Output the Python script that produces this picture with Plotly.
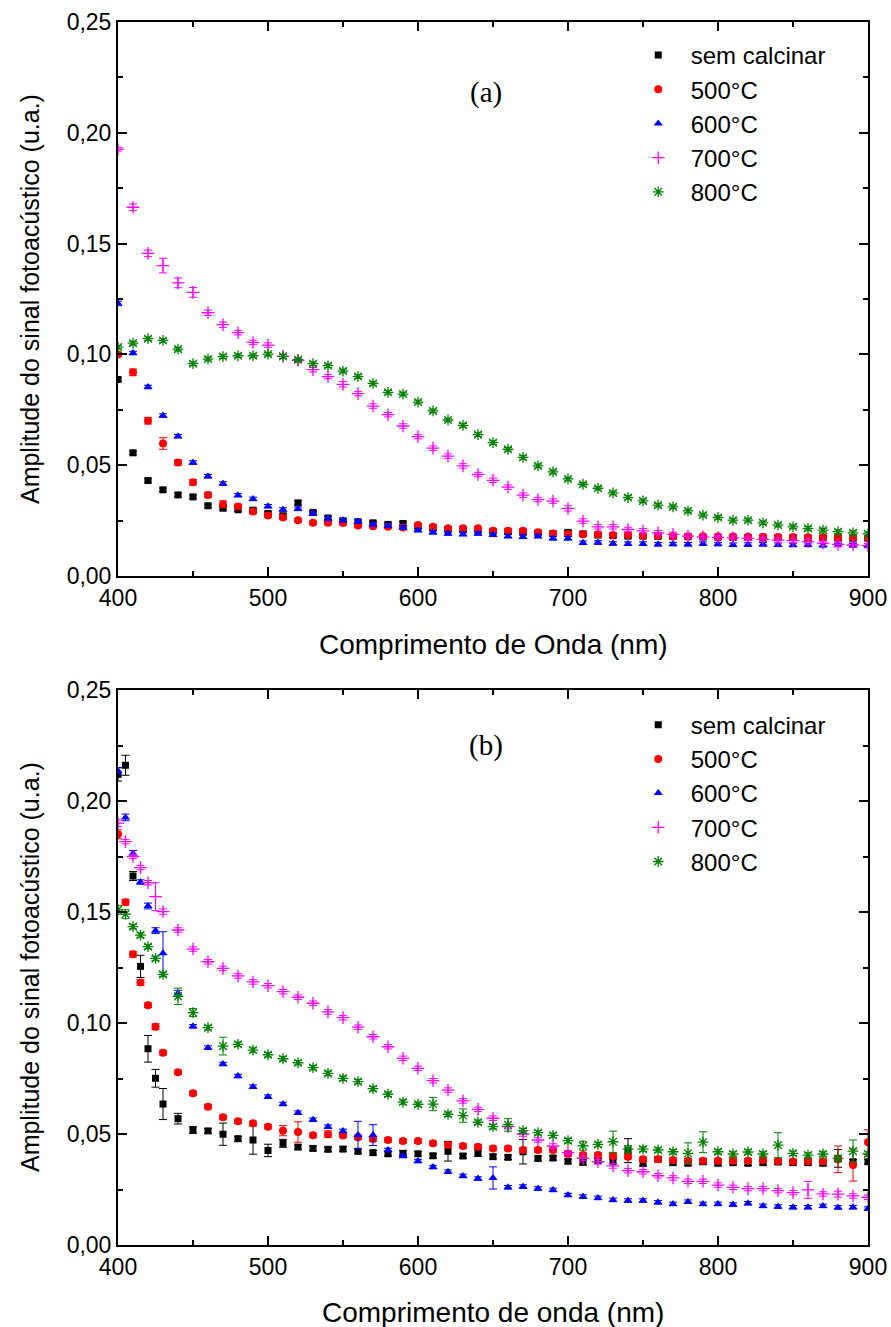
import plotly.graph_objects as go

# Wavelength grids (nm)
x_a = list(range(400, 901, 10))
x_b = [400, 405, 410, 415, 420, 425, 430] + list(range(440, 901, 10))

series_names = ["sem calcinar", "500°C", "600°C", "700°C", "800°C"]

# ---- Panel (a) ----
a_sem = [0.0887, 0.0556, 0.0431, 0.0389, 0.0366, 0.0357, 0.0317, 0.0306, 0.0299, 0.0297,
         0.0282, 0.0272, 0.0330, 0.0287, 0.0262, 0.0249, 0.0245, 0.0240, 0.0233, 0.0237,
         0.0222, 0.0215, 0.0210, 0.0208, 0.0207, 0.0202, 0.0200, 0.0198, 0.0195, 0.0192,
         0.0197, 0.0190, 0.0185, 0.0182, 0.0180, 0.0180, 0.0179, 0.0178, 0.0177, 0.0176,
         0.0175, 0.0175, 0.0174, 0.0174, 0.0173, 0.0173, 0.0172, 0.0172, 0.0171, 0.0170,
         0.0170]
a_500 = [0.1000, 0.0919, 0.0701, 0.0598, 0.0512, 0.0423, 0.0366, 0.0324, 0.0314, 0.0291,
         0.0273, 0.0264, 0.0252, 0.0240, 0.0240, 0.0239, 0.0228, 0.0225, 0.0222, 0.0219,
         0.0230, 0.0222, 0.0215, 0.0216, 0.0215, 0.0204, 0.0204, 0.0204, 0.0197, 0.0192,
         0.0190, 0.0189, 0.0189, 0.0185, 0.0185, 0.0182, 0.0181, 0.0180, 0.0180, 0.0179,
         0.0178, 0.0178, 0.0177, 0.0177, 0.0176, 0.0176, 0.0175, 0.0175, 0.0174, 0.0174,
         0.0173]
a_600 = [0.1230, 0.1006, 0.0853, 0.0724, 0.0631, 0.0512, 0.0450, 0.0417, 0.0365, 0.0348,
         0.0315, 0.0300, 0.0303, 0.0282, 0.0260, 0.0252, 0.0246, 0.0233, 0.0227, 0.0219,
         0.0207, 0.0197, 0.0192, 0.0189, 0.0192, 0.0186, 0.0180, 0.0177, 0.0180, 0.0170,
         0.0170, 0.0150, 0.0151, 0.0147, 0.0146, 0.0146, 0.0143, 0.0144, 0.0143, 0.0146,
         0.0144, 0.0141, 0.0142, 0.0143, 0.0141, 0.0140, 0.0141, 0.0139, 0.0140, 0.0139,
         0.0138]
a_700 = [0.1926, 0.1664, 0.1456, 0.1401, 0.1323, 0.1280, 0.1188, 0.1134, 0.1098, 0.1054,
         0.1042, 0.0991, 0.0973, 0.0931, 0.0900, 0.0865, 0.0823, 0.0767, 0.0728, 0.0677,
         0.0629, 0.0577, 0.0541, 0.0497, 0.0458, 0.0432, 0.0401, 0.0365, 0.0345, 0.0338,
         0.0305, 0.0248, 0.0222, 0.0222, 0.0210, 0.0204, 0.0195, 0.0188, 0.0180, 0.0177,
         0.0174, 0.0172, 0.0170, 0.0165, 0.0162, 0.0160, 0.0155, 0.0148, 0.0143, 0.0140,
         0.0137]
a_800 = [0.1033, 0.1051, 0.1071, 0.1063, 0.1024, 0.0958, 0.0979, 0.0990, 0.0994, 0.0994,
         0.1001, 0.0991, 0.0976, 0.0958, 0.0949, 0.0925, 0.0900, 0.0869, 0.0829, 0.0821,
         0.0785, 0.0745, 0.0704, 0.0680, 0.0638, 0.0602, 0.0572, 0.0535, 0.0497, 0.0470,
         0.0438, 0.0414, 0.0396, 0.0375, 0.0354, 0.0339, 0.0320, 0.0312, 0.0294, 0.0275,
         0.0264, 0.0252, 0.0252, 0.0240, 0.0230, 0.0222, 0.0215, 0.0207, 0.0200, 0.0195,
         0.0190]

a_sem_err = [0.0008, 0.0008, 0.0008, 0.0008, 0.0008, 0.0008, 0.0008, 0.0008, 0.0008, 0.0008,
             0.0008, 0.0008, 0.0010, 0.0008, 0.0008, 0.0008, 0.0008, 0.0008, 0.0008, 0.0008,
             0.0008, 0.0008, 0.0008, 0.0008, 0.0008, 0.0008, 0.0008, 0.0008, 0.0008, 0.0008,
             0.0008, 0.0008, 0.0008, 0.0008, 0.0008, 0.0008, 0.0008, 0.0008, 0.0008, 0.0008,
             0.0008, 0.0008, 0.0008, 0.0008, 0.0008, 0.0008, 0.0008, 0.0008, 0.0008, 0.0008,
             0.0008]
a_500_err = [0.0008, 0.0015, 0.0015, 0.0026, 0.0012, 0.0012, 0.0012, 0.0015, 0.0010, 0.0010,
             0.0008, 0.0008, 0.0008, 0.0008, 0.0008, 0.0008, 0.0008, 0.0008, 0.0008, 0.0008,
             0.0008, 0.0008, 0.0008, 0.0008, 0.0008, 0.0008, 0.0008, 0.0008, 0.0008, 0.0008,
             0.0008, 0.0008, 0.0008, 0.0008, 0.0008, 0.0008, 0.0008, 0.0008, 0.0008, 0.0008,
             0.0008, 0.0008, 0.0008, 0.0008, 0.0008, 0.0008, 0.0008, 0.0008, 0.0008, 0.0008,
             0.0008]
a_600_err = [0.0010, 0.0008, 0.0008, 0.0008, 0.0008, 0.0008, 0.0008, 0.0008, 0.0008, 0.0008,
             0.0008, 0.0008, 0.0008, 0.0008, 0.0008, 0.0008, 0.0008, 0.0008, 0.0008, 0.0008,
             0.0008, 0.0008, 0.0008, 0.0008, 0.0008, 0.0008, 0.0008, 0.0008, 0.0008, 0.0008,
             0.0008, 0.0008, 0.0008, 0.0008, 0.0008, 0.0008, 0.0008, 0.0008, 0.0008, 0.0008,
             0.0008, 0.0008, 0.0008, 0.0008, 0.0008, 0.0008, 0.0008, 0.0008, 0.0008, 0.0008,
             0.0008]
a_700_err = [0.0008, 0.0015, 0.0015, 0.0033, 0.0022, 0.0022, 0.0012, 0.0012, 0.0010, 0.0010,
             0.0010, 0.0010, 0.0010, 0.0010, 0.0010, 0.0012, 0.0010, 0.0010, 0.0010, 0.0010,
             0.0010, 0.0010, 0.0010, 0.0010, 0.0010, 0.0010, 0.0010, 0.0010, 0.0010, 0.0010,
             0.0012, 0.0010, 0.0010, 0.0010, 0.0010, 0.0010, 0.0010, 0.0010, 0.0010, 0.0010,
             0.0010, 0.0010, 0.0010, 0.0010, 0.0010, 0.0010, 0.0010, 0.0010, 0.0010, 0.0010,
             0.0010]
a_800_err = [0.0008, 0.0008, 0.0008, 0.0008, 0.0008, 0.0008, 0.0008, 0.0008, 0.0008, 0.0008,
             0.0008, 0.0008, 0.0008, 0.0008, 0.0008, 0.0008, 0.0008, 0.0008, 0.0008, 0.0008,
             0.0008, 0.0008, 0.0008, 0.0008, 0.0008, 0.0008, 0.0008, 0.0008, 0.0008, 0.0008,
             0.0008, 0.0008, 0.0008, 0.0008, 0.0008, 0.0008, 0.0008, 0.0008, 0.0008, 0.0008,
             0.0008, 0.0008, 0.0008, 0.0008, 0.0008, 0.0008, 0.0008, 0.0008, 0.0008, 0.0008,
             0.0008]

# ---- Panel (b) ----
b_sem = [0.2120, 0.2161, 0.1662, 0.1255, 0.0884, 0.0751, 0.0635,
         0.0569, 0.0518, 0.0514, 0.0499, 0.0479, 0.0473, 0.0426, 0.0458, 0.0441, 0.0435,
         0.0431, 0.0432, 0.0422, 0.0416, 0.0411, 0.0413, 0.0411, 0.0402, 0.0422, 0.0401,
         0.0414, 0.0398, 0.0395, 0.0420, 0.0390, 0.0392, 0.0377, 0.0372, 0.0380, 0.0377,
         0.0425, 0.0368, 0.0386, 0.0371, 0.0368, 0.0375, 0.0368, 0.0371, 0.0368, 0.0371,
         0.0374, 0.0371, 0.0371, 0.0368, 0.0390, 0.0375, 0.0375]
b_500 = [0.1850, 0.1544, 0.1310, 0.1182, 0.1080, 0.0983, 0.0866,
         0.0778, 0.0683, 0.0623, 0.0575, 0.0557, 0.0548, 0.0533, 0.0515, 0.0509, 0.0494,
         0.0499, 0.0493, 0.0485, 0.0477, 0.0473, 0.0468, 0.0468, 0.0458, 0.0452, 0.0446,
         0.0443, 0.0435, 0.0435, 0.0428, 0.0428, 0.0428, 0.0410, 0.0405, 0.0405, 0.0401,
         0.0398, 0.0386, 0.0386, 0.0383, 0.0380, 0.0380, 0.0380, 0.0380, 0.0380, 0.0383,
         0.0377, 0.0376, 0.0377, 0.0377, 0.0386, 0.0360, 0.0463]
b_600 = [0.2135, 0.1926, 0.1764, 0.1635, 0.1527, 0.1416, 0.1314,
         0.1134, 0.0985, 0.0889, 0.0815, 0.0761, 0.0713, 0.0668, 0.0635, 0.0596, 0.0564,
         0.0533, 0.0514, 0.0495, 0.0495, 0.0428, 0.0401, 0.0378, 0.0351, 0.0330, 0.0311,
         0.0299, 0.0302, 0.0260, 0.0263, 0.0254, 0.0248, 0.0225, 0.0218, 0.0212, 0.0203,
         0.0200, 0.0200, 0.0192, 0.0185, 0.0195, 0.0185, 0.0185, 0.0182, 0.0188, 0.0176,
         0.0173, 0.0170, 0.0170, 0.0176, 0.0169, 0.0170, 0.0164]
b_700 = [0.1900, 0.1817, 0.1750, 0.1700, 0.1632, 0.1569, 0.1502,
         0.1419, 0.1333, 0.1276, 0.1246, 0.1212, 0.1185, 0.1168, 0.1141, 0.1116, 0.1089,
         0.1050, 0.1024, 0.0981, 0.0938, 0.0893, 0.0841, 0.0796, 0.0740, 0.0698, 0.0649,
         0.0611, 0.0571, 0.0533, 0.0500, 0.0473, 0.0446, 0.0416, 0.0390, 0.0375, 0.0356,
         0.0335, 0.0330, 0.0312, 0.0302, 0.0287, 0.0287, 0.0270, 0.0260, 0.0254, 0.0254,
         0.0245, 0.0236, 0.0248, 0.0230, 0.0229, 0.0221, 0.0215]
b_800 = [0.1510, 0.1490, 0.1434, 0.1396, 0.1344, 0.1291, 0.1219,
         0.1120, 0.1047, 0.0979, 0.0896, 0.0904, 0.0878, 0.0857, 0.0839, 0.0821, 0.0799,
         0.0773, 0.0751, 0.0736, 0.0704, 0.0679, 0.0644, 0.0634, 0.0635, 0.0589, 0.0583,
         0.0553, 0.0533, 0.0541, 0.0515, 0.0506, 0.0494, 0.0470, 0.0447, 0.0453, 0.0465,
         0.0432, 0.0432, 0.0428, 0.0420, 0.0413, 0.0463, 0.0420, 0.0410, 0.0419, 0.0410,
         0.0450, 0.0413, 0.0405, 0.0410, 0.0390, 0.0423, 0.0410]

b_sem_err = [0.0030, 0.0045, 0.0020, 0.0050, 0.0060, 0.0040, 0.0070,
             0.0024, 0.0015, 0.0010, 0.0050, 0.0010, 0.0064, 0.0028, 0.0018, 0.0010, 0.0010,
             0.0010, 0.0010, 0.0010, 0.0010, 0.0010, 0.0012, 0.0010, 0.0010, 0.0044, 0.0010,
             0.0015, 0.0010, 0.0010, 0.0055, 0.0010, 0.0010, 0.0010, 0.0010, 0.0010, 0.0010,
             0.0054, 0.0012, 0.0010, 0.0010, 0.0010, 0.0010, 0.0010, 0.0010, 0.0010, 0.0010,
             0.0010, 0.0010, 0.0010, 0.0010, 0.0040, 0.0010, 0.0010]
b_500_err = [0.0020, 0.0013, 0.0013, 0.0013, 0.0010, 0.0013, 0.0010,
             0.0010, 0.0010, 0.0010, 0.0010, 0.0010, 0.0010, 0.0010, 0.0023, 0.0046, 0.0010,
             0.0015, 0.0010, 0.0010, 0.0010, 0.0010, 0.0010, 0.0010, 0.0010, 0.0010, 0.0010,
             0.0010, 0.0010, 0.0010, 0.0010, 0.0010, 0.0010, 0.0010, 0.0010, 0.0010, 0.0010,
             0.0010, 0.0010, 0.0010, 0.0010, 0.0010, 0.0010, 0.0010, 0.0010, 0.0010, 0.0010,
             0.0010, 0.0010, 0.0010, 0.0010, 0.0060, 0.0072, 0.0056]
b_600_err = [0.0015, 0.0015, 0.0013, 0.0010, 0.0013, 0.0013, 0.0097,
             0.0013, 0.0008, 0.0008, 0.0008, 0.0008, 0.0008, 0.0008, 0.0008, 0.0008, 0.0008,
             0.0008, 0.0008, 0.0062, 0.0047, 0.0008, 0.0008, 0.0008, 0.0008, 0.0008, 0.0008,
             0.0008, 0.0050, 0.0008, 0.0008, 0.0008, 0.0008, 0.0008, 0.0008, 0.0008, 0.0008,
             0.0008, 0.0008, 0.0008, 0.0008, 0.0008, 0.0008, 0.0008, 0.0008, 0.0008, 0.0008,
             0.0008, 0.0008, 0.0008, 0.0008, 0.0008, 0.0008, 0.0008]
b_700_err = [0.0015, 0.0010, 0.0010, 0.0010, 0.0010, 0.0063, 0.0012,
             0.0010, 0.0010, 0.0010, 0.0010, 0.0010, 0.0010, 0.0010, 0.0010, 0.0010, 0.0010,
             0.0010, 0.0010, 0.0010, 0.0010, 0.0010, 0.0010, 0.0010, 0.0010, 0.0010, 0.0010,
             0.0010, 0.0010, 0.0010, 0.0010, 0.0010, 0.0010, 0.0010, 0.0010, 0.0010, 0.0010,
             0.0010, 0.0010, 0.0010, 0.0010, 0.0010, 0.0010, 0.0010, 0.0010, 0.0010, 0.0010,
             0.0010, 0.0010, 0.0038, 0.0010, 0.0013, 0.0010, 0.0010]
b_800_err = [0.0020, 0.0020, 0.0010, 0.0010, 0.0010, 0.0010, 0.0010,
             0.0037, 0.0018, 0.0010, 0.0040, 0.0010, 0.0010, 0.0010, 0.0010, 0.0010, 0.0010,
             0.0010, 0.0010, 0.0010, 0.0010, 0.0010, 0.0010, 0.0010, 0.0030, 0.0010, 0.0030,
             0.0010, 0.0010, 0.0028, 0.0010, 0.0010, 0.0010, 0.0010, 0.0020, 0.0010, 0.0048,
             0.0015, 0.0010, 0.0010, 0.0010, 0.0047, 0.0047, 0.0010, 0.0010, 0.0010, 0.0010,
             0.0056, 0.0010, 0.0010, 0.0010, 0.0010, 0.0050, 0.0010]

colors = ["#000000", "#ff0000", "#0000ff", "#ff00ff", "#008000"]
symbols = ["square", "circle", "triangle-up", "cross-thin-open", "asterisk-open"]
sizes = [7, 8, 8, 9, 9]

panel_a = [(a_sem, a_sem_err), (a_500, a_500_err), (a_600, a_600_err),
           (a_700, a_700_err), (a_800, a_800_err)]
panel_b = [(b_sem, b_sem_err), (b_500, b_500_err), (b_600, b_600_err),
           (b_700, b_700_err), (b_800, b_800_err)]

fig = go.Figure()


def add_panel(xs, panel, xaxis, yaxis, legend):
    for i, (ys, errs) in enumerate(panel):
        open_sym = symbols[i].endswith("open")
        fig.add_trace(go.Scatter(
            x=xs, y=ys, mode="markers", name=series_names[i],
            xaxis=xaxis, yaxis=yaxis, legend=legend,
            marker=dict(symbol=symbols[i], size=sizes[i], color=colors[i],
                        line=dict(width=1.3 if open_sym else 0, color=colors[i])),
            error_y=dict(type="data", array=errs, visible=True,
                         color=colors[i], thickness=1, width=4),
        ))


add_panel(x_a, panel_a, "x", "y", "legend")
add_panel(x_b, panel_b, "x2", "y2", "legend2")

tick_font = dict(family="Liberation Sans, Arial", size=23, color="black")
title_font_x = dict(family="Liberation Sans, Arial", size=28, color="black")
title_font_y = dict(family="Liberation Sans, Arial", size=25, color="black")
legend_font = dict(family="Liberation Sans, Arial", size=24, color="black")

xcommon = dict(range=[400, 900], dtick=100, tick0=400, ticks="inside", ticklen=9,
               tickwidth=1.5, tickcolor="black", showline=True, linewidth=2,
               linecolor="black", mirror="allticks", showgrid=False, zeroline=False,
               tickfont=tick_font, automargin=False,
               minor=dict(dtick=50, ticks="inside", ticklen=5, tickwidth=1.5,
                          tickcolor="black", showgrid=False))
ycommon = dict(range=[0, 0.25], dtick=0.05, tick0=0, ticks="inside", ticklen=9,
               tickwidth=1.5, tickcolor="black", showline=True, linewidth=2,
               linecolor="black", mirror="allticks", showgrid=False, zeroline=False,
               tickformat=".2f", tickfont=tick_font, automargin=False,
               minor=dict(dtick=0.025, ticks="inside", ticklen=5, tickwidth=1.5,
                          tickcolor="black", showgrid=False))

serif = dict(family="Liberation Serif, Times New Roman", size=29, color="black")

fig.update_layout(
    width=891, height=1327,
    margin=dict(l=118, r=23, t=22, b=82),
    paper_bgcolor="white", plot_bgcolor="white",
    separators=",.",
    xaxis=dict(**xcommon, anchor="y"),
    yaxis=dict(**ycommon, domain=[0.547, 1.0], anchor="x"),
    xaxis2=dict(**xcommon, anchor="y2"),
    yaxis2=dict(**ycommon, domain=[0.0, 0.4538], anchor="x2"),
    legend=dict(x=0.677, y=0.991, xanchor="left", yanchor="top",
                bgcolor="rgba(0,0,0,0)", borderwidth=0, font=legend_font,
                tracegroupgap=0, itemwidth=55, itemsizing="trace"),
    legend2=dict(x=0.677, y=0.4435, xanchor="left", yanchor="top",
                 bgcolor="rgba(0,0,0,0)", borderwidth=0, font=legend_font,
                 tracegroupgap=0, itemwidth=55, itemsizing="trace"),
    annotations=[
        dict(text="(a)", x=645, y=0.218, xref="x", yref="y", showarrow=False, font=serif),
        dict(text="(b)", x=645, y=0.225, xref="x2", yref="y2", showarrow=False, font=serif),
        # axis titles
        dict(text="Comprimento de Onda (nm)", x=0.5, y=0.4906, xref="paper", yref="paper",
             xanchor="center", yanchor="middle", showarrow=False, font=title_font_x),
        dict(text="Comprimento de onda (nm)", x=0.5, y=-0.0556, xref="paper", yref="paper",
             xanchor="center", yanchor="middle", showarrow=False, font=title_font_x),
        dict(text="Amplitude do sinal fotoacústico (u.a.)", x=-0.1173, y=0.7735,
             xref="paper", yref="paper", xanchor="center", yanchor="middle",
             textangle=-90, showarrow=False, font=title_font_y),
        dict(text="Amplitude do sinal fotoacústico (u.a.)", x=-0.1173, y=0.2273,
             xref="paper", yref="paper", xanchor="center", yanchor="middle",
             textangle=-90, showarrow=False, font=title_font_y),
    ],
)

fig.write_html("out.html")
